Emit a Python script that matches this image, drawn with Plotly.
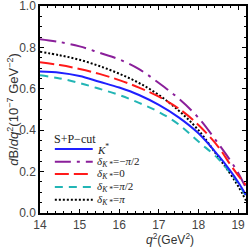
import plotly.graph_objects as go

q2 = [14.0, 14.5, 15.0, 15.5, 16.0, 16.5, 17.0, 17.5, 18.0, 18.5, 18.8, 19.0, 19.2]
kstar = [0.683, 0.678, 0.662, 0.634, 0.606, 0.570, 0.522, 0.462, 0.385, 0.278, 0.205, 0.150, 0.087]
d_mpi2 = [0.840, 0.826, 0.805, 0.774, 0.742, 0.695, 0.628, 0.553, 0.460, 0.335, 0.255, 0.195, 0.120]
d_zero = [0.728, 0.715, 0.696, 0.672, 0.642, 0.606, 0.562, 0.505, 0.425, 0.320, 0.235, 0.182, 0.135]
d_ppi2 = [0.665, 0.650, 0.628, 0.600, 0.570, 0.532, 0.488, 0.428, 0.345, 0.262, 0.195, 0.145, 0.080]
d_pi = [0.779, 0.762, 0.740, 0.710, 0.673, 0.628, 0.570, 0.495, 0.400, 0.270, 0.190, 0.130, 0.060]

names = ["<i>K</i><sup>*</sup>",
         "<i>δ</i><sub><i>K</i> *</sub>=−<i>π</i>/2",
         "<i>δ</i><sub><i>K</i> *</sub>=0",
         "<i>δ</i><sub><i>K</i> *</sub>=<i>π</i>/2",
         "<i>δ</i><sub><i>K</i> *</sub>=<i>π</i>"]
series = [kstar, d_mpi2, d_zero, d_ppi2, d_pi]
colors = ["#1f1fff", "#8a1f9a", "#ff1a1a", "#22b5b5", "#000000"]
dashes = ["solid", "16px,6px,3px,6px", "14px,5px", "8px,6px", "2px,2px"]

fig = go.Figure()
order = [4, 1, 2, 3, 0]
for i in order:
    fig.add_trace(go.Scatter(x=q2, y=series[i], mode="lines", line_shape="spline",
                             line=dict(color=colors[i], width=2, dash=dashes[i]),
                             showlegend=False, name=names[i], hoverinfo="skip"))

# manual compact legend
rows_y = [0.309, 0.248, 0.188, 0.126, 0.064]
shapes = []
annotations = []
for i in range(5):
    shapes.append(dict(type="line", xref="paper", yref="paper", x0=0.072, x1=0.256,
                       y0=rows_y[i], y1=rows_y[i],
                       line=dict(color=colors[i], width=2, dash=dashes[i])))
    annotations.append(dict(xref="paper", yref="paper", x=0.268, y=rows_y[i], text=names[i],
                            showarrow=False, xanchor="left", yanchor="middle",
                            font=dict(family="Liberation Serif", size=11, color="#222")))
annotations.append(dict(xref="paper", yref="paper", x=0.17, y=0.357, text="S+P−cut",
                        showarrow=False, xanchor="center", yanchor="middle",
                        font=dict(family="Liberation Serif", size=12, color="#222")))
# axis titles
annotations.append(dict(xref="paper", yref="paper", x=-0.135, y=0.5,
                        text="<i>d</i>B/<i>dq</i><sup>2</sup>(10<sup>−7</sup> GeV<sup>−2</sup>)",
                        textangle=-90, showarrow=False, xanchor="center", yanchor="middle",
                        font=dict(family="Liberation Sans", size=13, color="#333")))
annotations.append(dict(xref="paper", yref="paper", x=0.63, y=-0.128,
                        text="<i>q</i><sup>2</sup>(GeV<sup>2</sup>)",
                        showarrow=False, xanchor="center", yanchor="middle",
                        font=dict(family="Liberation Sans", size=12, color="#333")))

axis_common = dict(showline=True, linecolor="black", linewidth=1.5, mirror="ticks",
                   ticks="inside", ticklen=4, tickwidth=1, tickcolor="black",
                   showgrid=False, zeroline=False, automargin=False,
                   ticklabeloverflow="allow",
                   tickfont=dict(family="Liberation Sans", size=12, color="#444"))
fig.update_xaxes(range=[14, 19.2], tickvals=[14, 15, 16, 17, 18, 19],
                 minor=dict(dtick=0.2, ticks="inside", ticklen=2, tickcolor="black", tick0=14),
                 **axis_common)
fig.update_yaxes(range=[0, 1.0], tickvals=[0.0, 0.2, 0.4, 0.6, 0.8, 1.0], tickformat=".1f",
                 minor=dict(dtick=0.05, ticks="inside", ticklen=2, tickcolor="black", tick0=0),
                 **axis_common)
fig.update_layout(width=249, height=250, margin=dict(l=40, r=3, t=6, b=37),
                  paper_bgcolor="white", plot_bgcolor="white",
                  shapes=shapes, annotations=annotations)
fig.write_html("out.html", config={"displayModeBar": False},
               post_script="document.body.style.margin='0';")
